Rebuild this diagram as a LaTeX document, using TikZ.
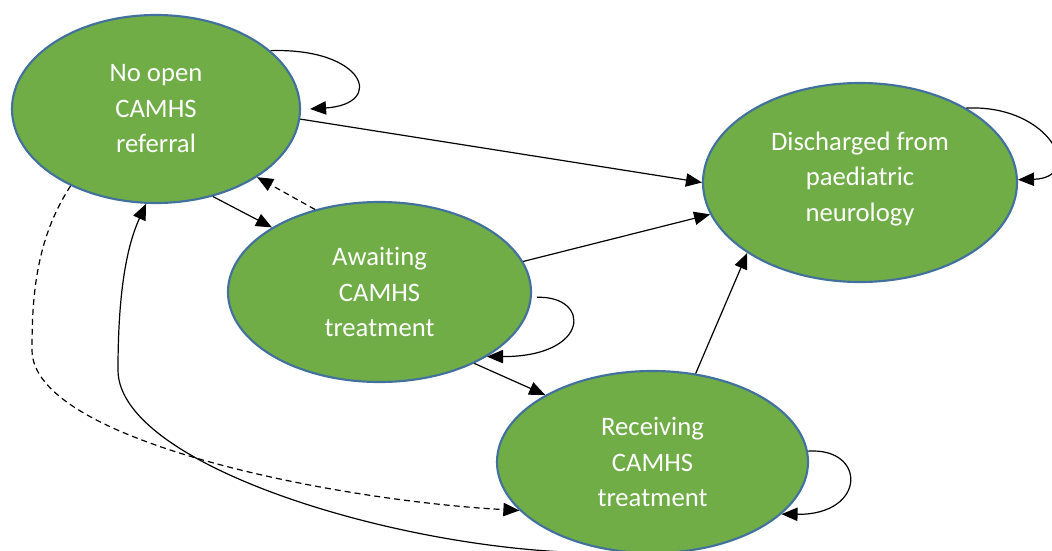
\documentclass[tikz,border=0pt]{standalone}
\usepackage{fontspec}
\setmainfont{Carlito}[Ligatures=NoCommon]
\usetikzlibrary{arrows.meta,shapes.geometric}
\definecolor{stategreen}{HTML}{70AD47}
\definecolor{stateedge}{HTML}{41719C}
\begin{document}
\begin{tikzpicture}[x=0.75pt,y=-0.75pt,
  state/.style={ellipse, fill=stategreen, draw=stateedge, line width=1.6pt, inner sep=0pt,
    text=white, font=\fontsize{20}{26.6}\selectfont, align=center},
  conn/.style={line width=0.9pt, -{Triangle[length=12pt,width=10pt]}},
  dashconn/.style={conn, dash pattern=on 4.5pt off 3pt}]
\useasboundingbox (0,0) rectangle (1052,550);
\node[state, minimum width=216pt, minimum height=141pt] (e1) at (156,109) {No open\\CAMHS\\referral};
\node[state, minimum width=227.25pt, minimum height=135pt] (a) at (379.5,292) {Awaiting\\CAMHS\\treatment};
\node[state, minimum width=235.5pt, minimum height=149.25pt, text depth=9pt] (d) at (860,182.5) {Discharged from\\paediatric\\neurology};
\node[state, minimum width=233.25pt, minimum height=136.5pt] (r) at (652.5,462) {Receiving\\CAMHS\\treatment};
\coordinate (w1) at (32,350);
\coordinate (w2) at (118,370);
% straight transitions
\draw[conn] (e1.-4) -- (d.180);
\draw[conn] (e1.-57) -- (a.149);
\draw[dashconn] (a.128) -- (e1.-34);
\draw[conn] (a.12) -- (d.192);
\draw[conn] (a.-37) -- (r.148);
\draw[conn] (r.64) -- (d.212);
% self loops
\draw[conn] (e1.27) .. controls +(94,-3) and +(76,-5) .. ([xshift=6.75pt]e1.east);
\draw[conn] ([xshift=3.75pt]a.-2) .. controls +(54,-2) and +(104,0) .. (a.-31);
\draw[conn] (r.4) .. controls +(59,-4) and +(85,1) .. (r.-22);
\draw[conn] (d.35) .. controls +(84,-4) and +(68,-2) .. (d.1);
% long curved transitions
\draw[dashconn] (e1.222) .. controls (35,240) and (32,300) .. (w1) .. controls (32,440) and (330,500) .. (r.200);
\draw[conn] (r.252) .. controls (430,560) and (118,470) .. (w2) .. controls (118,300) and (125,250) .. (e1.264);
\end{tikzpicture}
\end{document}
